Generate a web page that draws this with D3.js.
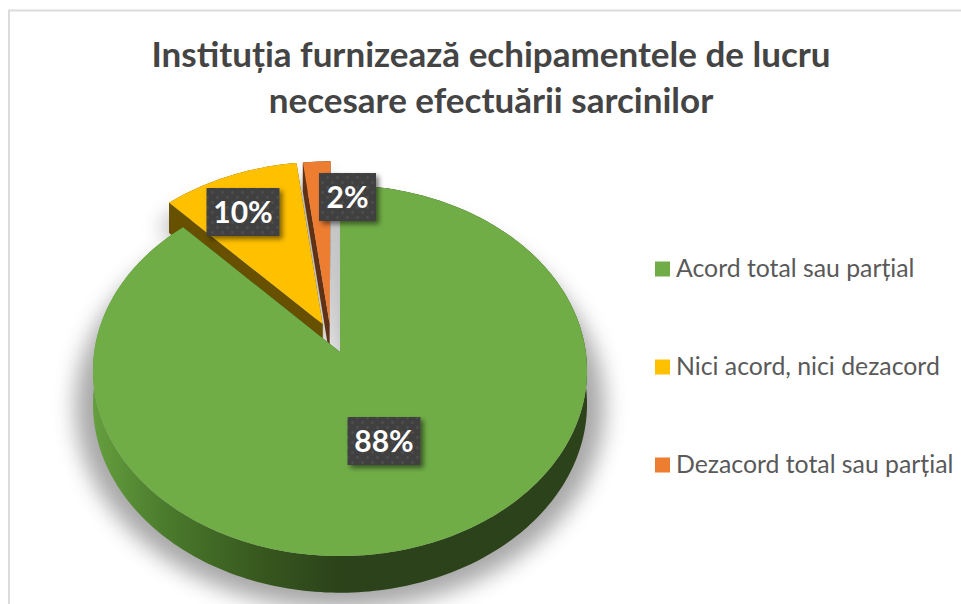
<!DOCTYPE html>
<html><head><meta charset="utf-8">
<script src="https://cdn.jsdelivr.net/npm/d3@7"></script>
<style>html,body{margin:0;padding:0;background:#fff}svg{display:block}text{font-family:Lato,"Open Sans",sans-serif}</style>
</head><body><svg id="c" width="961" height="604"></svg>
<script>
const categories = ["Acord total sau parțial", "Nici acord, nici dezacord", "Dezacord total sau parțial"];
const values = [88, 10, 2];
const labels = ["88%", "10%", "2%"];
const colors = ["#70AD47", "#FFC000", "#ED7D31"];
const wallDark = ["#2c421a", "#675000", "#5f3216"];
const titleLines = ["Instituția furnizează echipamentele de lucru", "necesare efectuării sarcinilor"];

const svg = d3.select("#c");
const defs = svg.append("defs");

// frame
svg.append("rect").attr("x",9).attr("y",10.5).attr("width",960).attr("height",620)
  .attr("fill","#fff").attr("stroke","#dcdcdc").attr("stroke-width",2);

// perspective disc: unit circle -> screen
const P = {cx:340, cy:352, A:245.8, B:183.7, k:0.0998, D:33};
const proj = (X,Y,down) => {
  const w = 1 + P.k*Y;
  return [P.cx + P.A*X/w, P.cy - P.B*Y/w + (down ? P.D/w : 0)];
};
const explode = [[0,0],[-0.072,0.155],[-0.043,0.158]];
const arcs = d3.pie().sort(null)(values);
const N = a => Math.max(2, Math.ceil(Math.abs(a.endAngle-a.startAngle)/0.02));
const rimPts = (a,i,down,s=1) => d3.range(N(a)+1).map(j=>{
  const t = a.startAngle + (a.endAngle-a.startAngle)*j/N(a);
  return proj(explode[i][0]+s*Math.sin(t), explode[i][1]+s*Math.cos(t), down);
});
const line = d3.line();
const slicePath = (a,i,down,s=1) => line([proj(explode[i][0],explode[i][1],down), ...rimPts(a,i,down,s)])+"Z";

// filters and patterns
const blur = defs.append("filter").attr("id","pieShadow").attr("filterUnits","userSpaceOnUse")
  .attr("x",0).attr("y",100).attr("width",800).attr("height",504).attr("color-interpolation-filters","sRGB");
blur.append("feGaussianBlur").attr("stdDeviation",11);
const lblShadow = defs.append("filter").attr("id","lblShadow").attr("x","-30%").attr("y","-30%").attr("width","160%").attr("height","160%");
lblShadow.append("feDropShadow").attr("dx",3).attr("dy",3).attr("stdDeviation",2.5).attr("flood-color","#000").attr("flood-opacity",.5);
const pat = defs.append("pattern").attr("id","dots").attr("width",10).attr("height",10).attr("patternUnits","userSpaceOnUse");
pat.append("rect").attr("width",10).attr("height",10).attr("fill","#404040");
pat.append("circle").attr("cx",2.5).attr("cy",2.5).attr("r",1.4).attr("fill","#4e4e4e");
pat.append("circle").attr("cx",7.5).attr("cy",7.5).attr("r",1.4).attr("fill","#4e4e4e");
const grad = defs.append("linearGradient").attr("id","wall0").attr("gradientUnits","userSpaceOnUse")
  .attr("x1",93).attr("x2",587).attr("y1",0).attr("y2",0);
[[0,"#659f3e"],[0.15,"#4a7a2c"],[0.33,"#38591f"],[0.5,"#2c421a"],[1,"#2c421a"]]
  .forEach(([o,c])=>grad.append("stop").attr("offset",o).attr("stop-color",c));

// shadows
const g = svg.append("g");
g.append("g").attr("filter","url(#pieShadow)").attr("opacity",.34).selectAll("path").data(arcs).join("path")
  .attr("d",(a,i)=>slicePath(a,i,true,1.07)).attr("fill","#000");

// exploded slices first, then main slice on top
[1,2,0].forEach(i=>{
  const a = arcs[i];
  const front = rimPts(a,i,false), back = rimPts(a,i,true);
  const apexT = proj(explode[i][0],explode[i][1],false), apexB = proj(explode[i][0],explode[i][1],true);
  const wall = i===0 ? "url(#wall0)" : wallDark[i];
  // cut faces
  g.append("path").attr("d",line([apexT,front[0],back[0],apexB])+"Z").attr("fill",wallDark[i]);
  g.append("path").attr("d",line([apexT,front[front.length-1],back[back.length-1],apexB])+"Z").attr("fill",wallDark[i]);
  // rim
  g.append("path").attr("d",line([...front,...back.slice().reverse()])+"Z").attr("fill",wall);
  // top
  g.append("path").attr("d",slicePath(a,i,false)).attr("fill",colors[i]);
});

// title
svg.append("g").selectAll("text").data(titleLines).join("text")
  .attr("x",491).attr("y",(d,i)=>67+i*46).attr("text-anchor","middle")
  .attr("font-size",35).attr("font-weight",700).attr("fill","#444").text(d=>d);

// data labels
const lblW = [73,73,57], lblH = 48;
const lblC = [[384,441],[243,212],[347.5,197]];
const lg = svg.append("g").selectAll("g").data(labels).join("g");
lg.append("rect").attr("x",(d,i)=>lblC[i][0]-lblW[i]/2).attr("y",(d,i)=>lblC[i][1]-lblH/2)
  .attr("width",(d,i)=>lblW[i]).attr("height",lblH).attr("fill","url(#dots)").attr("filter","url(#lblShadow)");
lg.append("text").attr("x",(d,i)=>lblC[i][0]).attr("y",(d,i)=>lblC[i][1]+11).attr("text-anchor","middle")
  .attr("font-size",30).attr("font-weight",700).attr("fill","#fff").text(d=>d);

// legend
const ly = d3.scalePoint().domain(categories).range([269,465]);
const leg = svg.append("g").selectAll("g").data(categories).join("g");
leg.append("rect").attr("x",655).attr("y",d=>ly(d)-7.5).attr("width",15).attr("height",15).attr("fill",(d,i)=>colors[i]);
leg.append("text").attr("x",676).attr("y",d=>ly(d)+8).attr("font-size",24.8).attr("fill","#595959").text(d=>d);
</script></body></html>
